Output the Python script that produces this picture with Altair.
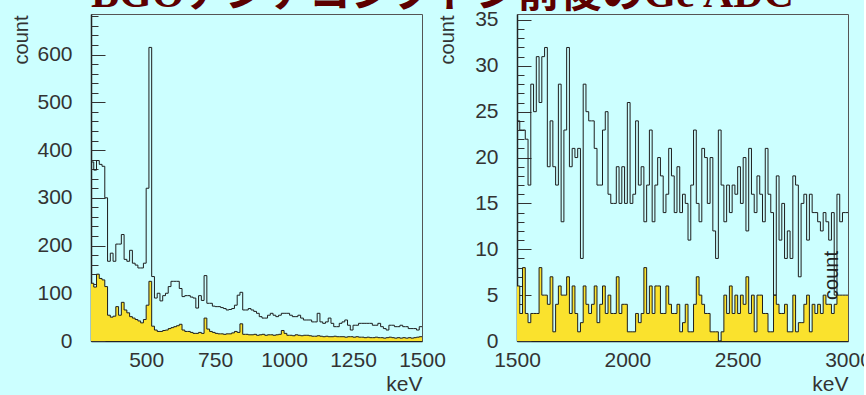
import altair as alt
import pandas as pd

TITLE = "BGOアンチコンプトン前後のGe ADC"

# ---- data ----
L_START, L_STEP = 300, 10
R_START, R_STEP = 1500, 12.5

left_total = [
    375, 358, 378, 370, 366, 300, 167, 184, 167, 203,
    203, 223, 171, 167, 190, 163, 159, 153, 153, 163,
    320, 615, 135, 90, 100, 84, 95, 100, 114, 125,
    125, 125, 110, 93, 95, 95, 92, 90, 69, 95,
    85, 137, 79, 79, 73, 72, 72, 70, 68, 65,
    66, 68, 75, 96, 102, 65, 65, 68, 65, 62,
    58, 51, 48, 48, 54, 58, 54, 51, 54, 58,
    58, 58, 54, 51, 51, 54, 48, 44, 44, 44,
    40, 40, 58, 40, 37, 40, 48, 37, 30, 30,
    37, 40, 44, 33, 23, 33, 33, 37, 37, 37,
    37, 37, 33, 33, 37, 30, 26, 23, 33, 33,
    30, 30, 33, 30, 30, 26, 26, 26, 23, 30,
]
left_bgo = [
    121, 113, 140, 131, 128, 114, 54, 50, 52, 72,
    54, 81, 65, 59, 51, 48, 45, 42, 38, 45,
    75, 125, 31, 23, 20, 20, 22, 23, 26, 28,
    30, 32, 35, 23, 20, 20, 18, 16, 16, 18,
    16, 48, 25, 20, 18, 16, 15, 15, 14, 15,
    15, 17, 20, 18, 36, 14, 14, 13, 13, 14,
    12, 13, 14, 12, 13, 13, 12, 13, 14, 22,
    16, 12, 12, 11, 13, 12, 11, 12, 12, 11,
    10, 10, 11, 10, 9, 10, 9, 9, 10, 9,
    9, 9, 8, 9, 9, 8, 9, 8, 8, 7,
    8, 7, 7, 8, 7, 7, 6, 7, 8, 7,
    6, 7, 6, 7, 6, 7, 6, 7, 8, 9,
]
right_total = [
    24, 23, 23, 22, 17, 28, 25, 31, 26, 31,
    32, 19, 24, 19, 17, 28, 13, 23, 32, 19,
    21, 20, 21, 9, 28, 25, 24, 24, 21, 17,
    17, 23, 25, 16, 15, 15, 19, 15, 19, 15,
    26, 15, 16, 24, 17, 19, 13, 17, 23, 13,
    17, 20, 18, 14, 16, 21, 18, 14, 19, 14,
    16, 15, 11, 17, 23, 15, 13, 21, 20, 15,
    20, 12, 9, 23, 17, 13, 17, 14, 17, 16,
    19, 15, 20, 12, 21, 16, 14, 18, 16, 13,
    21, 16, 14, 5, 18, 11, 15, 9, 12, 9,
    18, 17, 7, 15, 16, 11, 16, 14, 14, 13,
    12, 14, 13, 11, 14, 5, 16, 13, 14, 14,
]
right_bgo = [
    6, 3, 8, 3, 2, 3, 3, 3, 8, 5,
    5, 4, 7, 1, 4, 6, 5, 5, 7, 3,
    6, 3, 1, 2, 6, 4, 3, 4, 6, 2,
    4, 6, 3, 5, 3, 3, 7, 3, 4, 4,
    1, 1, 1, 3, 2, 3, 8, 3, 6, 3,
    6, 6, 3, 3, 6, 4, 3, 3, 4, 1,
    2, 4, 1, 1, 4, 7, 5, 4, 3, 3,
    1, 1, 1, 0, 1, 5, 3, 6, 3, 5,
    3, 5, 4, 7, 3, 5, 1, 5, 5, 3,
    3, 1, 1, 5, 4, 3, 3, 4, 1, 1,
    5, 1, 2, 2, 4, 5, 1, 4, 3, 4,
    3, 5, 4, 4, 3, 4, 5, 5, 5, 5,
]

L_XDOM = [300, 1500]
R_XDOM = [1500, 3000]
L_YMAX = 685
R_YMAX = 35.65
L_XLABELS = [500, 750, 1000, 1250, 1500]
R_XLABELS = [1500, 2000, 2500, 3000]
L_YLABELS = [0, 100, 200, 300, 400, 500, 600]
R_YLABELS = [0, 5, 10, 15, 20, 25, 30, 35]
L_YTICKS = list(range(0, 681, 20))
R_YTICKS = list(range(0, 36))

# ---- style ----
W, H = 331, 327
BG = "#ccffff"
YELLOW = "#fae22d"
LINE = "#1e1e1e"
TXT = "#333333"
FONT = "Liberation Sans"
TFONT = "Liberation Serif, 'Noto Sans CJK JP'"


def steps(start, step, values):
    xs = [start + i * step for i in range(len(values))] + [start + len(values) * step]
    ys = list(values) + [values[-1]]
    return pd.DataFrame({"x": xs, "y": ys})


def panel(start, step, total, bgo, xdom, ymax, xlabels, ylabels, yticks, major,
          stray="", mask=False):
    tot = steps(start, step, total)
    bg = steps(start, step, bgo)
    xs = alt.Scale(domain=xdom, nice=False, zero=False)
    ys = alt.Scale(domain=[0, ymax], nice=False, zero=True)
    xaxis = alt.Axis(
        values=xlabels, format="d", tickSize=0, labelPadding=8,
        labelFlush=False, labelOverlap=False,
        labelFontSize=21, labelFont=FONT, labelColor=TXT,
        domainColor="#222222", domainWidth=1.5, grid=False,
        title="keV", titleFontSize=21, titleFont=FONT, titleFontWeight="normal",
        titleColor=TXT, titleAlign="right", titleBaseline="top",
        titleX=W, titleY=32,
    )
    yaxis = alt.Axis(
        orient="left", values=ylabels, format="d", tickSize=0, labelPadding=19,
        labelFlush=False, labelOverlap=False,
        labelFontSize=21, labelFont=FONT, labelColor=TXT, labelBaseline="middle",
        domainColor="#222222", domainWidth=1.5, grid=False,
        title="count", titleFontSize=20, titleFont=FONT, titleFontWeight="normal",
        titleColor=TXT, titleAngle=270, titleAlign="right", titleBaseline="middle",
        titleX=-70, titleY=1,
    )
    tick_kw = dict(
        orient="right", offset=-W, values=yticks, labels=False, domain=False,
        grid=False, tickColor="#333333", tickWidth=1,
        tickSize={"condition": {"test": f"datum.value % {major} === 0", "value": 14}, "value": 7},
    )
    if stray:
        tick_kw.update(title=stray, titleX=W - 17, titleY=261, titleAngle=270,
                       titleAlign="center", titleBaseline="middle", titleFontSize=20,
                       titleFont=FONT, titleFontWeight="normal", titleColor="#222222")
    else:
        tick_kw["title"] = ""
    tickaxis = alt.Axis(**tick_kw)
    x_enc = alt.X("x:Q", scale=xs, axis=xaxis)
    area = alt.Chart(bg).mark_area(
        interpolate="step-after", color=YELLOW, opacity=1, clip=True,
        line={"color": LINE, "strokeWidth": 1, "interpolate": "step-after", "clip": True},
    ).encode(x=x_enc, y=alt.Y("y:Q", scale=ys, axis=yaxis))
    line = alt.Chart(tot).mark_line(
        interpolate="step-after", color=LINE, strokeWidth=1, clip=True
    ).encode(x=x_enc, y=alt.Y("y:Q", scale=ys, axis=None))
    ticks = alt.Chart(tot).mark_line(strokeOpacity=0, clip=True).encode(
        x=x_enc, y=alt.Y("y:Q", scale=ys, axis=tickaxis)
    )
    layers = [area, line, ticks]
    if mask:
        cover = alt.Chart(alt.Data(values=[{"m": 1}])).mark_rect(
            fill=BG, opacity=1
        ).encode(x=alt.value(W + 1), x2=alt.value(W + 40),
                 y=alt.value(-1), y2=alt.value(H + 3))
        layers.append(cover)
    return alt.layer(*layers).resolve_scale(y="independent").properties(width=W, height=H)


left = panel(L_START, L_STEP, left_total, left_bgo, L_XDOM, L_YMAX,
             L_XLABELS, L_YLABELS, L_YTICKS, 100)
right = panel(R_START, R_STEP, right_total, right_bgo, R_XDOM, R_YMAX,
              R_XLABELS, R_YLABELS, R_YTICKS, 5, stray="count", mask=True)

title = alt.Chart(alt.Data(values=[{"t": TITLE}])).mark_text(
    clip=True, align="left", baseline="alphabetic", font=TFONT, fontSize=42,
    fontWeight="bold", color="#5c0000",
).encode(text="t:N", x=alt.value(0), y=alt.value(7)).properties(
    width=2 * W + 95, height=12, view=alt.ViewBackground(strokeOpacity=0)
)

chart = alt.vconcat(
    title,
    alt.hconcat(left, right, spacing=95, bounds="flush"),
    spacing=2, bounds="flush",
).properties(
    background=BG, padding={"left": 10, "top": 0, "right": -25, "bottom": 0}
).configure_view(stroke="#555555", strokeWidth=1)

chart.save("out.html", embed_options={"renderer": "svg", "actions": False})
